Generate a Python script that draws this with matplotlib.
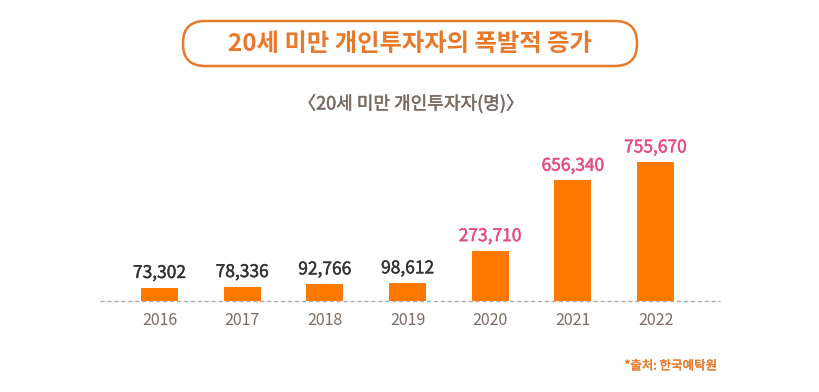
import matplotlib
matplotlib.use("Agg")
import matplotlib.pyplot as plt
import matplotlib.patheffects as pe
from matplotlib.patches import FancyBboxPatch

plt.rcParams['font.family'] = ['Noto Sans CJK KR', 'DejaVu Sans']

years = ["2016", "2017", "2018", "2019", "2020", "2021", "2022"]
investors = [73302, 78336, 92766, 98612, 273710, 656340, 755670]
highlight = [False, False, False, False, True, True, True]

title = "20세 미만 개인투자자의 폭발적 증가"
subtitle = "〈20세 미만 개인투자자(명)〉"
source = "*출처: 한국예탁원"

BAR = "#FF7800"
ORANGE = "#E8792A"
PINK = "#E94B7F"
DARK = "#333333"
BROWN = "#7B6B63"


def thick(color, lw=0.3):
    return [pe.withStroke(linewidth=lw, foreground=color)]


fig = plt.figure(figsize=(8.2, 3.92), dpi=100)
fig.patch.set_facecolor("white")

# overlay in pixel coordinates for title box and texts
ov = fig.add_axes([0, 0, 1, 1])
ov.set_xlim(0, 820)
ov.set_ylim(392, 0)
ov.axis("off")
box = FancyBboxPatch((183, 21), 454, 45,
                     boxstyle="round,pad=0,rounding_size=22",
                     facecolor="white", edgecolor=ORANGE, linewidth=1.8)
ov.add_patch(box)
ov.text(410, 44, title, ha="center", va="center",
        fontsize=17.5, fontweight="bold", color=ORANGE)
ov.text(411, 104, subtitle, ha="center", va="center",
        fontsize=13, color=BROWN, path_effects=thick(BROWN, 0.35))
ov.text(717, 366, source, ha="right", va="center",
        fontsize=9, color=ORANGE, path_effects=thick(ORANGE, 0.3))

ax = fig.add_axes([100 / 820, 1 - 301 / 392, 620 / 820, 171 / 392])
x = list(range(len(years)))
ax.bar(x, investors, width=0.45, color=BAR, zorder=2)
for xi, v, h in zip(x, investors, highlight):
    c = PINK if h else DARK
    ax.annotate(f"{v:,}", (xi, v), xytext=(0, 4), textcoords="offset points",
                ha="center", va="bottom", fontsize=12.5, color=c,
                path_effects=thick(c, 0.3))
ax.axhline(0, color="#AAAAAA", linestyle=(0, (3, 2)), linewidth=1,
           zorder=1, clip_on=False)
ax.set_xlim(-0.72, 6.78)
ax.set_ylim(0, 755670 * 171 / 139)
ax.set_xticks(x)
ax.set_xticklabels(years, fontsize=11.5, color=BROWN)
ax.tick_params(axis="x", length=0, pad=8)
ax.set_yticks([])
for s in ax.spines.values():
    s.set_visible(False)
ax.patch.set_alpha(0)

fig.savefig("out.png", dpi=100, facecolor="white")
